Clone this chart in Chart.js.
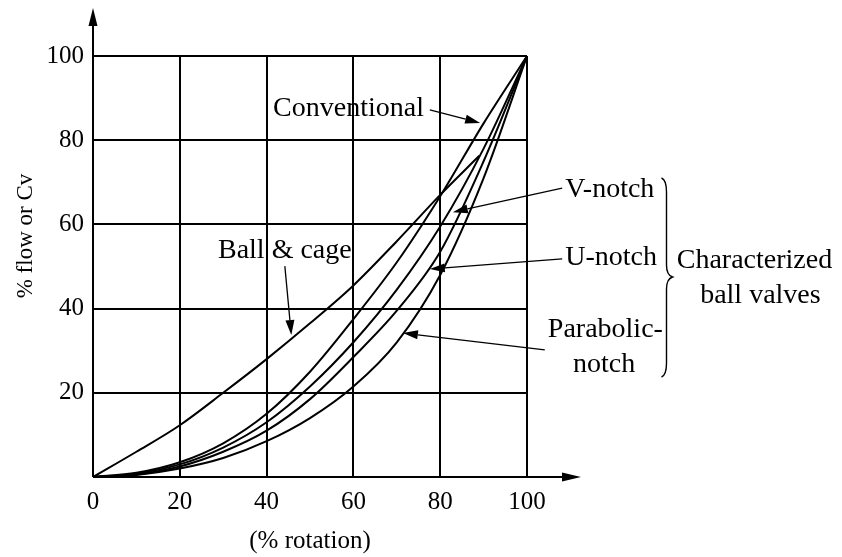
<!DOCTYPE html>
<html>
<head>
<meta charset="utf-8">
<script src="https://cdn.jsdelivr.net/npm/chart.js@4.4.0/dist/chart.umd.min.js"></script>
<style>
  html, body { margin: 0; padding: 0; background: #fff; }
  #chart { display: block; }
</style>
</head>
<body>
<canvas id="chart" width="842" height="557"></canvas>
<script>
// Valve characteristics: % flow vs % rotation

const rotation = [0, 10, 20, 30, 40, 50, 60, 70, 80, 90, 100];
const conventional = [0, 1, 3.5, 8, 15, 25, 37.5, 51, 66.7, 84, 100];
const vNotch = [0, 0.8, 3, 7, 13, 21.5, 32, 44.5, 59.5, 78, 100];
const uNotch = [0, 0.6, 2.5, 6, 11, 18.5, 28.5, 39.5, 53.5, 75, 100];
const parabolicNotch = [0, 0.5, 2, 4.5, 8.5, 14, 21.5, 32, 48, 71, 100];

const ballCageRotation = [0, 10, 20, 30, 40, 50, 60, 70, 80, 89];
const ballCage = [0, 6, 12.3, 20, 28, 36.5, 45.5, 56, 67, 76.3];

const xTicks = [0, 20, 40, 60, 80, 100];
const yTicks = [20, 40, 60, 80, 100];

const SERIF = "'Liberation Serif', 'DejaVu Serif', serif";

function toPoints(xs, ys) {
  return xs.map((x, i) => ({ x: x, y: ys[i] }));
}

function curve(label, xs, ys) {
  return {
    label: label,
    data: toPoints(xs, ys),
    borderColor: "#000",
    borderWidth: 2,
    pointRadius: 0,
    fill: false,
    cubicInterpolationMode: "monotone",
  };
}

// Draw arrow with filled head, from (x1,y1) to tip (x2,y2)
function drawArrow(ctx, x1, y1, x2, y2) {
  const ang = Math.atan2(y2 - y1, x2 - x1);
  const len = 15;
  const half = 4.5;
  const bx = x2 - len * Math.cos(ang);
  const by = y2 - len * Math.sin(ang);
  ctx.beginPath();
  ctx.moveTo(x1, y1);
  ctx.lineTo(bx, by);
  ctx.stroke();
  ctx.beginPath();
  ctx.moveTo(x2, y2);
  ctx.lineTo(bx + half * Math.sin(ang), by - half * Math.cos(ang));
  ctx.lineTo(bx - half * Math.sin(ang), by + half * Math.cos(ang));
  ctx.closePath();
  ctx.fill();
}

const annotationPlugin = {
  id: "annotations",
  afterDraw(chart) {
    const ctx = chart.ctx;
    const sx = chart.scales.x;
    const sy = chart.scales.y;
    const px = (v) => sx.getPixelForValue(v);
    const py = (v) => sy.getPixelForValue(v);
    const area = chart.chartArea;

    ctx.save();
    ctx.fillStyle = "#000";
    ctx.strokeStyle = "#000";

    // axes with arrows
    ctx.lineWidth = 2;
    ctx.beginPath();
    ctx.moveTo(area.left, area.bottom);
    ctx.lineTo(area.left, 22);
    ctx.moveTo(area.left, area.bottom);
    ctx.lineTo(566, area.bottom);
    ctx.stroke();
    ctx.beginPath();
    ctx.moveTo(area.left, 8);
    ctx.lineTo(area.left - 4.5, 26);
    ctx.lineTo(area.left + 4.5, 26);
    ctx.closePath();
    ctx.fill();
    ctx.beginPath();
    ctx.moveTo(581, area.bottom);
    ctx.lineTo(562, area.bottom - 4.5);
    ctx.lineTo(562, area.bottom + 4.5);
    ctx.closePath();
    ctx.fill();

    // axis titles
    ctx.textAlign = "center";
    ctx.textBaseline = "alphabetic";
    ctx.font = "25px " + SERIF;
    ctx.fillText("(% rotation)", 310, 548);
    ctx.font = "23px " + SERIF;
    ctx.save();
    ctx.translate(32, 236);
    ctx.rotate(-Math.PI / 2);
    ctx.fillText("% flow or Cv", 0, 0);
    ctx.restore();

    // curve labels
    ctx.font = "28px " + SERIF;
    ctx.textAlign = "left";
    ctx.fillText("Conventional", px(41.5), py(85.7));
    ctx.fillText("Ball & cage", px(28.8), py(52));
    ctx.fillText("V-notch", px(108.8), py(66.5));
    ctx.fillText("U-notch", px(108.8), py(50.4));
    ctx.fillText("Parabolic-", px(104.8), py(33.3));
    ctx.fillText("notch", px(110.6), py(24.9));
    ctx.fillText("Characterized", px(134.5), py(49.6));
    ctx.fillText("ball valves", px(139.9), py(41.4));

    // arrows
    ctx.lineWidth = 1.3;
    drawArrow(ctx, px(77.6), py(87.2), px(89.2), py(84.1));
    drawArrow(ctx, px(44.2), py(50.1), px(45.7), py(33.7));
    drawArrow(ctx, px(108.1), py(68.6), px(82.9), py(62.9));
    drawArrow(ctx, px(108.1), py(51.8), px(77.6), py(49.4));
    drawArrow(ctx, px(104.1), py(30.2), px(71.4), py(34.2));

    // brace
    const bTop = 178, bMid = 277, bBot = 377, bx = 666.5;
    ctx.lineWidth = 1.4;
    ctx.beginPath();
    ctx.moveTo(bx - 5, bTop);
    ctx.quadraticCurveTo(bx, bTop + 2, bx, bTop + 14);
    ctx.lineTo(bx, bMid - 12);
    ctx.quadraticCurveTo(bx, bMid - 2, bx + 6, bMid);
    ctx.quadraticCurveTo(bx, bMid + 2, bx, bMid + 12);
    ctx.lineTo(bx, bBot - 14);
    ctx.quadraticCurveTo(bx, bBot - 2, bx - 5, bBot);
    ctx.stroke();

    ctx.restore();
  },
};

new Chart(document.getElementById("chart"), {
  type: "line",
  data: {
    datasets: [
      curve("Ball & cage", ballCageRotation, ballCage),
      curve("Conventional", rotation, conventional),
      curve("V-notch", rotation, vNotch),
      curve("U-notch", rotation, uNotch),
      curve("Parabolic-notch", rotation, parabolicNotch),
    ],
  },
  options: {
    responsive: false,
    animation: false,
    events: [],
    layout: { padding: { left: 0, top: 56, right: 315, bottom: 0 } },
    plugins: {
      legend: { display: false },
      tooltip: { enabled: false },
    },
    scales: {
      x: {
        type: "linear",
        min: 0,
        max: 100,
        afterFit: (scale) => { scale.height = 80; },
        afterBuildTicks: (scale) => { scale.ticks = xTicks.map((v) => ({ value: v })); },
        grid: { color: "#000", lineWidth: 2, drawTicks: false },
        border: { display: false },
        ticks: {
          color: "#000",
          font: { family: SERIF, size: 25 },
          padding: 10,
          maxRotation: 0,
        },
      },
      y: {
        type: "linear",
        min: 0,
        max: 100,
        afterFit: (scale) => { scale.width = 93; },
        afterBuildTicks: (scale) => { scale.ticks = [0].concat(yTicks).map((v) => ({ value: v })); },
        grid: { color: "#000", lineWidth: 2, drawTicks: false },
        border: { display: false },
        ticks: {
          color: "#000",
          font: { family: SERIF, size: 25 },
          padding: 9,
          callback: (v) => (yTicks.includes(v) ? v : ""),
        },
      },
    },
  },
  plugins: [annotationPlugin],
});
</script>
</body>
</html>
